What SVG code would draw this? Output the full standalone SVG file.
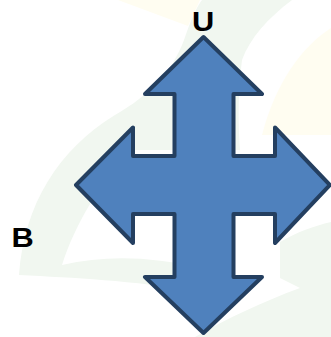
<svg xmlns="http://www.w3.org/2000/svg" width="331" height="337" viewBox="0 0 331 337">
<style>
.bg-g{fill:#F1F7F0;stroke:none}
.bg-y{fill:#FFFDF1;stroke:none}
.arrow{fill:#4F81BD;stroke:#243F60;stroke-width:4;stroke-linejoin:round}
.lbl{font-family:"Liberation Sans",Arial,sans-serif;font-weight:bold;font-size:28px;fill:#000}
</style>
<g id="background">
<path class="bg-y" d="M118,0 L200,0 L188,26 Z"/>
<path class="bg-y" d="M331,28 C300,48 275,85 262,135 L331,135 Z"/>
<path class="bg-g" d="M19,275 C24,205 58,150 115,115 C150,95 172,72 184,40 C190,22 196,8 202,0 L292,0 C268,18 250,38 242,60 C238,90 238,120 240,150 L135,150 C100,180 75,225 62,265 C105,255 150,256 200,268 L200,292 C130,280 75,278 19,275 Z"/>
<path class="bg-g" d="M280,242 C297,232 314,226 331,222 L331,337 L195,337 C228,318 262,302 300,288 L280,278 Z"/>
</g>
<g id="quad-arrow">
<polygon class="arrow" points="203.5,37 262,94 233.5,94 233.5,156 275,156 275,127.5 330,185 275,243 275,214 233.5,214 233.5,277 262,277 203.5,333 145,277 174.5,277 174.5,214 133,214 133,243 76,185 133,127.5 133,156 174.5,156 174.5,94 145,94"/>
</g>
<g id="label-U">
<text class="lbl" x="203" y="31" text-anchor="middle" transform="translate(203 0) scale(1.1 1) translate(-203 0)">U</text>
</g>
<g id="label-B">
<text class="lbl" x="22.7" y="247" text-anchor="middle" transform="translate(22.7 0) scale(1.1 1) translate(-22.7 0)">B</text>
</g>
<g id="connectors"/>
</svg>
